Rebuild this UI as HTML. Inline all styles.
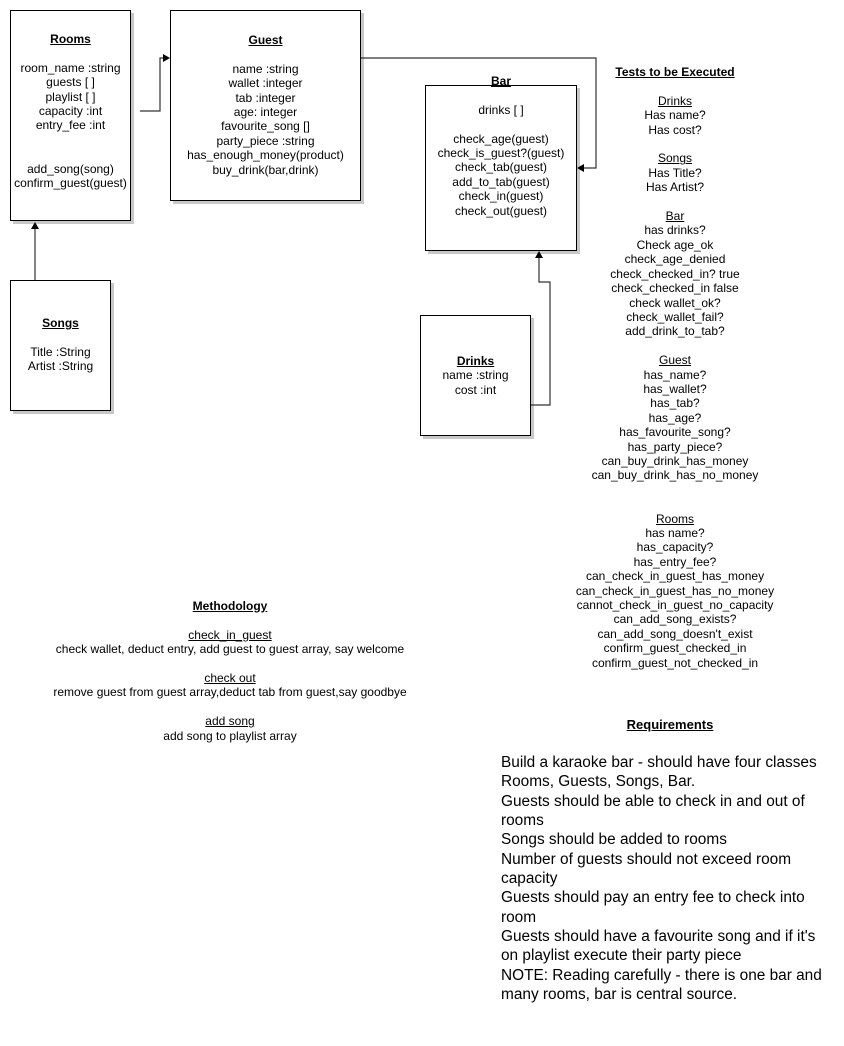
<!DOCTYPE html>
<html><head><meta charset="utf-8"><style>
body{margin:0;width:844px;height:1046px;background:#fff;position:relative;font-family:"Liberation Sans",Arial,sans-serif;color:#000;overflow:hidden}
.b{position:absolute;border:1.3px solid #000;box-shadow:3px 3px 0 #c8c8c8;background:#fff;box-sizing:border-box}
.t{position:absolute;text-align:center;font-size:12px;line-height:14.4px;white-space:pre}
.h{font-weight:bold;text-decoration:underline}
u{text-decoration:underline}
</style></head><body>
<div class="b" style="left:10px;top:10px;width:121px;height:211px"></div>
<div class="b" style="left:170px;top:10px;width:191px;height:191px"></div>
<div class="b" style="left:425px;top:85px;width:152px;height:166px"></div>
<div class="b" style="left:420px;top:315px;width:111px;height:121px"></div>
<div class="b" style="left:10px;top:280px;width:101px;height:131px"></div>

<svg style="position:absolute;left:0;top:0" width="844" height="1046">
<g fill="none" stroke="#333" stroke-width="1.2">
<path d="M140 111 H160 V58 H166"/>
<path d="M361 58 H596 V168 H583"/>
<path d="M531 405 H550 V282 H539 V258"/>
<path d="M35 280 V228"/>
</g>
<g fill="#000">
<path d="M170 58 L163 54 L163 62Z"/>
<path d="M577 168 L584 164 L584 172Z"/>
<path d="M539 251 L535 258 L543 258Z"/>
<path d="M35 222 L31 229 L39 229Z"/>
</g>
</svg>

<div class="t" style="left:10px;width:121px;top:32px"><span class="h">Rooms</span>

room_name :string
guests [ ]
playlist [ ]
capacity :int
entry_fee :int


add_song(song)
confirm_guest(guest)</div>

<div class="t" style="left:170px;width:191px;top:33px"><span class="h">Guest</span>

name :string
wallet :integer
tab :integer
age: integer
favourite_song []
party_piece :string
has_enough_money(product)
buy_drink(bar,drink)</div>

<div class="t" style="left:426px;width:150px;top:74px"><span class="h">Bar</span>

drinks [ ]

check_age(guest)
check_is_guest?(guest)
check_tab(guest)
add_to_tab(guest)
check_in(guest)
check_out(guest)</div>

<div class="t" style="left:420px;width:111px;top:354px"><span class="h">Drinks</span>
name :string
cost :int</div>

<div class="t" style="left:10px;width:101px;top:316px"><span class="h">Songs</span>

Title :String
Artist :String</div>

<div class="t" style="left:575px;width:200px;top:65px"><span class="h">Tests to be Executed</span>

<u>Drinks</u>
Has name?
Has cost?

<u>Songs</u>
Has Title?
Has Artist?

<u>Bar</u>
has drinks?
Check age_ok
check_age_denied
check_checked_in? true
check_checked_in false
check wallet_ok?
check_wallet_fail?
add_drink_to_tab?

<u>Guest</u>
has_name?
has_wallet?
has_tab?
has_age?
has_favourite_song?
has_party_piece?
can_buy_drink_has_money
can_buy_drink_has_no_money


<u>Rooms</u>
has name?
has_capacity?
has_entry_fee?
can_check_in_guest_has_money
can_check_in_guest_has_no_money
cannot_check_in_guest_no_capacity
can_add_song_exists?
can_add_song_doesn't_exist
confirm_guest_checked_in
confirm_guest_not_checked_in</div>

<div class="t" style="left:30px;width:400px;top:599px"><span class="h">Methodology</span>

<u>check_in_guest</u>
check wallet, deduct entry, add guest to guest array, say welcome

<u>check out</u>
remove guest from guest array,deduct tab from guest,say goodbye

<u>add song</u>
add song to playlist array</div>

<div class="t" style="left:570px;width:200px;top:718px;font-size:13px;font-weight:bold;text-decoration:underline">Requirements</div>
<div style="position:absolute;left:501px;top:753px;font-size:15.4px;line-height:19.35px;white-space:pre">Build a karaoke bar - should have four classes
Rooms, Guests, Songs, Bar.
Guests should be able to check in and out of
rooms
Songs should be added to rooms
Number of guests should not exceed room
capacity
Guests should pay an entry fee to check into
room
Guests should have a favourite song and if it's
on playlist execute their party piece
NOTE: Reading carefully - there is one bar and
many rooms, bar is central source.</div>
</body></html>
